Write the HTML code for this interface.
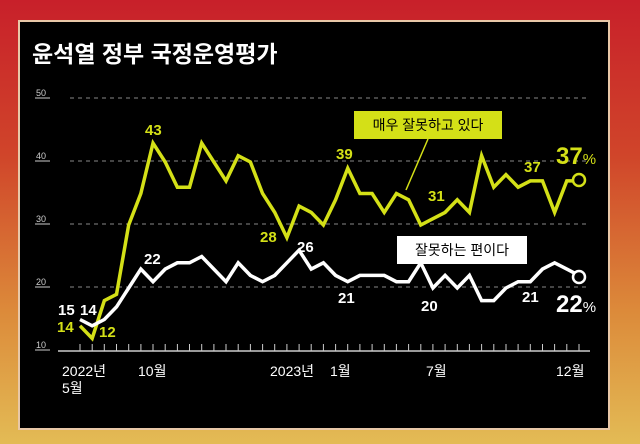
<!DOCTYPE html>
<html><head><meta charset="utf-8"><style>
body{margin:0;width:640px;height:444px;overflow:hidden;background:linear-gradient(180deg,#c8202a 0%,#d0452a 35%,#dc8a3a 70%,#e3bb55 100%);font-family:"Liberation Sans","Noto Sans CJK KR",sans-serif}
#p{position:absolute;left:18px;top:20px;width:588px;height:406px;background:#000;border:2px solid #e8c8a8}
</style></head><body>
<div id="p"></div>
<svg width="640" height="444" style="position:absolute;left:0;top:0" font-family="Liberation Sans, Noto Sans CJK KR, sans-serif">
<text x="32" y="62" fill="#fff" font-size="23" font-weight="bold">윤석열 정부 국정운영평가</text>
<g fill="#ccc" font-size="9">
<text x="36" y="96">50</text><text x="36" y="159">40</text><text x="36" y="222">30</text><text x="36" y="285">20</text><text x="36" y="348">10</text></g>
<g stroke="#ccc" stroke-width="1"><line x1="35" y1="98" x2="50" y2="98"/><line x1="35" y1="161" x2="50" y2="161"/><line x1="35" y1="224" x2="50" y2="224"/><line x1="35" y1="287" x2="50" y2="287"/><line x1="35" y1="350" x2="50" y2="350"/></g>
<g stroke="#888" stroke-dasharray="4,4"><line x1="70" y1="98" x2="590" y2="98"/><line x1="70" y1="161" x2="590" y2="161"/><line x1="70" y1="224" x2="590" y2="224"/><line x1="70" y1="287" x2="590" y2="287"/></g>
<line x1="58" y1="351" x2="590" y2="351" stroke="#ccc" stroke-width="1.5"/>
<path stroke="#ccc" stroke-width="1" d="M80,344V351M92.2,344V351M104.3,344V351M116.5,344V351M128.7,344V351M140.9,344V351M153,344V351M165.2,344V351M177.4,344V351M189.5,344V351M201.7,344V351M213.9,344V351M226,344V351M238.2,344V351M250.4,344V351M262.6,344V351M274.7,344V351M286.9,344V351M299.1,344V351M311.2,344V351M323.4,344V351M335.6,344V351M347.7,344V351M359.9,344V351M372.1,344V351M384.3,344V351M396.4,344V351M408.6,344V351M420.8,344V351M432.9,344V351M445.1,344V351M457.3,344V351M469.4,344V351M481.6,344V351M493.8,344V351M506,344V351M518.1,344V351M530.3,344V351M542.5,344V351M554.6,344V351M566.8,344V351M579,344V351"/>
<polyline id="y" fill="none" stroke="#d4e017" stroke-width="3.5"/>
<polyline id="w" fill="none" stroke="#fff" stroke-width="3.5"/>
<circle cx="579" cy="180" r="6" fill="#000" stroke="#d4e017" stroke-width="2.5"/>
<circle cx="579" cy="277" r="6" fill="#000" stroke="#fff" stroke-width="2.5"/>
<g font-weight="bold" font-size="15" fill="#d4e017">
<text x="145" y="135">43</text><text x="260" y="242">28</text><text x="336" y="159">39</text><text x="428" y="201">31</text><text x="524" y="172">37</text>
<text x="57" y="332">14</text><text x="99" y="337">12</text></g>
<g font-weight="bold" font-size="15" fill="#fff">
<text x="144" y="264">22</text><text x="297" y="252">26</text><text x="338" y="303">21</text><text x="421" y="311">20</text><text x="522" y="302">21</text>
<text x="58" y="315">15</text><text x="80" y="315">14</text></g>
<text x="556" y="164" fill="#d4e017" font-size="24" font-weight="bold">37<tspan font-size="15" font-weight="normal">%</tspan></text>
<text x="556" y="312" fill="#fff" font-size="24" font-weight="bold">22<tspan font-size="15" font-weight="normal">%</tspan></text>
<rect x="354" y="111" width="148" height="28" fill="#d4e017"/>
<text x="428" y="130" text-anchor="middle" font-size="14" fill="#000">매우 잘못하고 있다</text>
<line x1="428" y1="139" x2="406" y2="190" stroke="#d4e017" stroke-width="1.5"/>
<rect x="397" y="236" width="130" height="28" fill="#fff"/>
<text x="462" y="255" text-anchor="middle" font-size="14" fill="#000">잘못하는 편이다</text>
<g fill="#fff" font-size="14">
<text x="62" y="376">2022년</text><text x="62" y="393">5월</text><text x="138" y="376">10월</text><text x="270" y="376">2023년</text><text x="330" y="376">1월</text><text x="426" y="376">7월</text><text x="556" y="376">12월</text></g>
<script>
var Y=[14,12,18,19,30,35,43,40,36,36,43,40,37,41,40,35,32,28,33,32,30,34,39,35,35,32,35,34,30,31,32,34,32,41,36,38,36,37,37,32,37,37];
var W=[15,14,15,17,20,23,21,23,24,24,25,23,21,24,22,21,22,24,26,23,24,22,21,22,22,22,21,21,24,20,22,20,22,18,18,20,21,21,23,24,23,22];
function px(i){return 80+i*12.17}function py(v){return 351-(v-10)*6.3}
document.getElementById('y').setAttribute('points',Y.map(function(v,i){return px(i)+','+py(v)}).join(' '));
document.getElementById('w').setAttribute('points',W.map(function(v,i){return px(i)+','+py(v)}).join(' '));
</script>
</svg>
</body></html>
